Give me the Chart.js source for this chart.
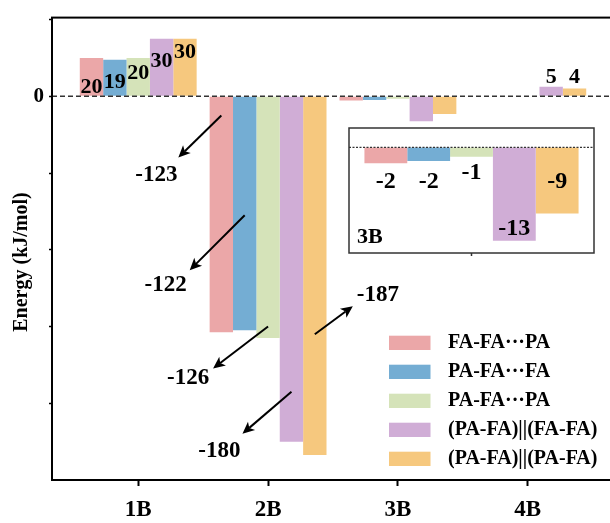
<!DOCTYPE html>
<html>
<head>
<meta charset="utf-8">
<script src="https://cdn.jsdelivr.net/npm/chart.js@4.4.1/dist/chart.umd.min.js"></script>
<style>
  html, body { margin: 0; padding: 0; background: #fff; overflow: hidden; }
  #wrap { position: relative; width: 620px; height: 523px; }
  #main { position: absolute; left: 0; top: 0; }
  #inset { position: absolute; left: 346px; top: 125px; }
</style>
</head>
<body>
<div id="wrap">
  <canvas id="main" width="620" height="523"></canvas>
  <canvas id="inset" width="253" height="136"></canvas>
</div>
<script>
// ── 데이터 ──
const categories = ['1B', '2B', '3B', '4B'];
const seriesNames = [
  'FA-FA\u00B7\u00B7\u00B7PA',
  'PA-FA\u00B7\u00B7\u00B7FA',
  'PA-FA\u00B7\u00B7\u00B7PA',
  '(PA-FA)||(FA-FA)',
  '(PA-FA)||(PA-FA)'
];
const faFaPa     = [20, -123, -2.2, 0];
const paFaFa     = [19, -122, -1.9, 0];
const paFaPa     = [20, -126, -1.3, 0];
const paFaFaFa   = [30, -180, -13, 5];
const paFaPaFa   = [30, -187, -9.2, 4];
const seriesValues = [faFaPa, paFaFa, paFaPa, paFaFaFa, paFaPaFa];
const seriesColors = ['#EBA7A8', '#74ADD3', '#D5E3B9', '#D0ADD6', '#F6C87E'];
const yTicks = [-160, -120, -80, -40, 0, 40];
const yTitle = 'Energy (kJ/mol)';

const FONT = "'Liberation Serif', 'Times New Roman', serif";
Chart.defaults.font.family = FONT;
Chart.defaults.font.weight = 'bold';
Chart.defaults.color = '#000';

function txt(ctx, s, x, y, size, align) {
  ctx.font = `bold ${size}px ${FONT}`;
  ctx.fillStyle = '#000';
  ctx.textAlign = align || 'center';
  ctx.textBaseline = 'middle';
  ctx.fillText(s, x, y);
}

function arrow(ctx, x1, y1, x2, y2) {
  const a = Math.atan2(y2 - y1, x2 - x1);
  const L = 12, W = 5.5, N = 3;
  ctx.strokeStyle = '#000'; ctx.fillStyle = '#000'; ctx.lineWidth = 2;
  ctx.beginPath();
  ctx.moveTo(x1, y1);
  ctx.lineTo(x2 - Math.cos(a) * (L - N), y2 - Math.sin(a) * (L - N));
  ctx.stroke();
  const bx = x2 - Math.cos(a) * L, by = y2 - Math.sin(a) * L;
  ctx.beginPath();
  ctx.moveTo(x2, y2);
  ctx.lineTo(bx + Math.sin(a) * W, by - Math.cos(a) * W);
  ctx.lineTo(x2 - Math.cos(a) * (L - N), y2 - Math.sin(a) * (L - N));
  ctx.lineTo(bx - Math.sin(a) * W, by + Math.cos(a) * W);
  ctx.closePath();
  ctx.fill();
}

// ── 본 차트 장식 ──
const mainDeco = {
  id: 'mainDeco',
  afterDatasetsDraw(chart) {
    const { ctx, chartArea: ca, scales: { y } } = chart;
    const y0 = y.getPixelForValue(0);
    ctx.save();
    // zero line
    ctx.setLineDash([5, 3]);
    ctx.strokeStyle = '#333'; ctx.lineWidth = 1.3;
    ctx.beginPath(); ctx.moveTo(ca.left, y0); ctx.lineTo(ca.right, y0); ctx.stroke();
    ctx.setLineDash([]);

    // frame
    ctx.strokeStyle = '#000'; ctx.lineWidth = 2;
    ctx.strokeRect(ca.left, ca.top, ca.right - ca.left, ca.bottom - ca.top);

    // y title
    ctx.save();
    ctx.translate(22, 262);
    ctx.rotate(-Math.PI / 2);
    txt(ctx, yTitle, 0, 0, 20);
    ctx.restore();

    // 1B labels
    const dy1 = [29.7, 22.7, 15.2, 22.4, 14];
    seriesValues.forEach((vals, s) => {
      const bar = chart.getDatasetMeta(s).data[0];
      txt(ctx, String(vals[0]), bar.x, bar.y + dy1[s], 22);
    });
    // 4B labels
    [3, 4].forEach(s => {
      const bar = chart.getDatasetMeta(s).data[3];
      txt(ctx, String(seriesValues[s][3]), bar.x, y0 - 19, 22);
    });

    // 2B arrows
    const arrows = [
      { s: 0, from: -10,  dx: -43, dy: 42,  lx: -22, ly: 18 },
      { s: 1, from: -62,  dx: -55, dy: 55,  lx: -24, ly: 15 },
      { s: 2, from: -120, dx: -55, dy: 42,  lx: -25, ly: 10 },
      { s: 3, from: -154, dx: -49, dy: 42,  lx: -23, ly: 17 },
      { s: 4, from: -124, dx: 38,  dy: -28, lx: 25,  ly: -11 }
    ];
    arrows.forEach(a => {
      const bar = chart.getDatasetMeta(a.s).data[1];
      const sx = bar.x, sy = y.getPixelForValue(a.from);
      arrow(ctx, sx, sy, sx + a.dx, sy + a.dy);
      txt(ctx, String(seriesValues[a.s][1]), sx + a.dx + a.lx, sy + a.dy + a.ly, 23);
    });

    // legend
    seriesNames.forEach((name, s) => {
      const cy = 342.7 + s * 29;
      ctx.fillStyle = seriesColors[s];
      ctx.fillRect(389, cy - 7, 41.5, 14.3);
      txt(ctx, name, 448, cy, 20, 'left');
    });
    ctx.restore();
  }
};

new Chart(document.getElementById('main'), {
  type: 'bar',
  data: {
    datasets: seriesNames.map((name, s) => ({
      label: name,
      data: seriesValues[s].map((v, i) => ({ x: i + 1, y: v })),
      backgroundColor: seriesColors[s],
      borderWidth: 0,
      categoryPercentage: 0.9,
      barPercentage: 1.0
    }))
  },
  options: {
    responsive: false, animation: false, devicePixelRatio: 1,
    layout: { padding: { top: 13, right: 6, left: 0, bottom: 0 } },
    plugins: { legend: { display: false }, tooltip: { enabled: false } },
    scales: {
      x: {
        type: 'linear', min: 0.336, max: 4.664, offset: false,
        afterBuildTicks: sc => { sc.ticks = categories.map((_, i) => ({ value: i + 1 })); },
        afterFit: sc => { sc.height = 43; },
        grid: { offset: false, drawOnChartArea: false, tickLength: 6, tickWidth: 2, color: '#000' },
        border: { display: false },
        ticks: { callback: v => categories[v - 1], font: { size: 23, weight: 'bold' }, padding: 10, maxRotation: 0, autoSkip: false }
      },
      y: {
        min: -200, max: 41,
        afterBuildTicks: sc => { sc.ticks = yTicks.map(v => ({ value: v })); },
        afterFit: sc => { sc.width = 52; },
        grid: { drawOnChartArea: false, tickLength: 3, tickWidth: 1.5, color: '#000' },
        border: { display: false },
        ticks: { callback: v => (v === 0 ? '0' : ''), font: { size: 21, weight: 'bold' }, padding: 5 }
      }
    }
  },
  plugins: [mainDeco]
});

// ── 인셋 (3B 확대) ──
const insetDeco = {
  id: 'insetDeco',
  beforeDatasetsDraw(chart) {
    const { ctx, chartArea: ca } = chart;
    ctx.save();
    ctx.fillStyle = '#fff';
    ctx.fillRect(ca.left, ca.top, ca.right - ca.left, ca.bottom - ca.top);
    ctx.restore();
  },
  afterDatasetsDraw(chart) {
    const { ctx, chartArea: ca, scales: { x, y } } = chart;
    const y0 = y.getPixelForValue(0);
    ctx.save();
    ctx.setLineDash([2, 1.5]);
    ctx.strokeStyle = '#333'; ctx.lineWidth = 1.2;
    ctx.beginPath(); ctx.moveTo(ca.left, y0); ctx.lineTo(ca.right, y0); ctx.stroke();
    ctx.setLineDash([]);
    ctx.strokeStyle = '#333'; ctx.lineWidth = 1.5;
    ctx.strokeRect(ca.left, ca.top, ca.right - ca.left, ca.bottom - ca.top);
    const cx = x.getPixelForValue(0);
    ctx.beginPath(); ctx.moveTo(cx, ca.bottom); ctx.lineTo(cx, ca.bottom + 3); ctx.stroke();

    const dy = [19, 21, 16, -12, -32];
    seriesValues.forEach((vals, s) => {
      const bar = chart.getDatasetMeta(s).data[0];
      txt(ctx, String(Math.round(vals[2])), bar.x, bar.y + dy[s], 24);
    });
    txt(ctx, categories[2], ca.left + 8, ca.top + 109, 22, 'left');
    ctx.restore();
  }
};

new Chart(document.getElementById('inset'), {
  type: 'bar',
  data: {
    labels: [categories[2]],
    datasets: seriesNames.map((name, s) => ({
      label: name,
      data: [seriesValues[s][2]],
      backgroundColor: seriesColors[s],
      borderWidth: 0,
      categoryPercentage: 0.874,
      barPercentage: 1.0
    }))
  },
  options: {
    responsive: false, animation: false, devicePixelRatio: 1,
    layout: { padding: { left: 3, top: 3, right: 5, bottom: 8 } },
    plugins: { legend: { display: false }, tooltip: { enabled: false } },
    scales: {
      x: { display: false },
      y: { display: false, min: -14.7, max: 2.7 }
    }
  },
  plugins: [insetDeco]
});
</script>
</body>
</html>
